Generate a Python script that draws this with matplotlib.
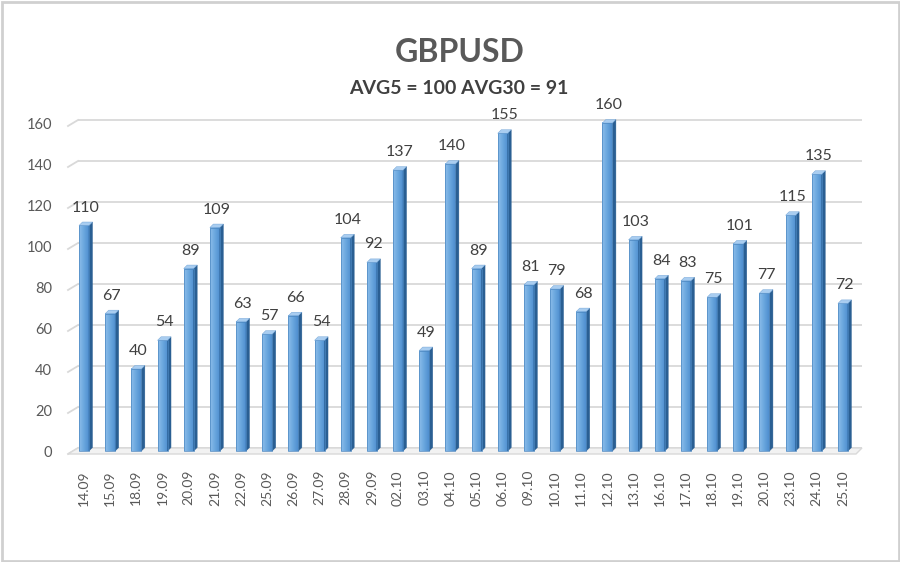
import matplotlib
matplotlib.use("Agg")
import matplotlib.pyplot as plt
from matplotlib.patches import Polygon, Rectangle
import numpy as np

plt.rcParams['font.family'] = ['Lato', 'DejaVu Sans']

title = "GBPUSD"
subtitle = "AVG5 = 100 AVG30 = 91"
dates = ["14.09", "15.09", "18.09", "19.09", "20.09", "21.09", "22.09", "25.09", "26.09", "27.09",
         "28.09", "29.09", "02.10", "03.10", "04.10", "05.10", "06.10", "09.10", "10.10", "11.10",
         "12.10", "13.10", "16.10", "17.10", "18.10", "19.10", "20.10", "23.10", "24.10", "25.10"]
values = [110, 67, 40, 54, 89, 109, 63, 57, 66, 54,
          104, 92, 137, 49, 140, 89, 155, 81, 79, 68,
          160, 103, 84, 83, 75, 101, 77, 115, 135, 72]
yticks = [0, 20, 40, 60, 80, 100, 120, 140, 160]

W, H = 900, 562
fig = plt.figure(figsize=(W / 100, H / 100), dpi=100)
fig.patch.set_facecolor("white")

# frame border
fig.add_artist(Rectangle((1.5 / W, 1.5 / H), (W - 3) / W, (H - 3) / H, transform=fig.transFigure,
                         fill=False, edgecolor="#d0d0d0", linewidth=2))

left_px, right_px = 78, 862
y0_px, y160_px = 451, 123
ax = fig.add_axes([left_px / W, 1 - y0_px / H, (right_px - left_px) / W, (y0_px - y160_px) / H])
step = 26.17
c0 = 84
ax.axis("off")

px_x = 1 / step
px_y = 160 / (y0_px - y160_px)

xl = (left_px - c0) / step
xr = (right_px - c0) / step
xs = (68 - c0) / step

for v in yticks:
    yb = v + 3 * px_y
    ax.plot([xl, xr], [yb, yb], color="#d9d9d9", lw=1.3, clip_on=False, zorder=1, solid_capstyle="butt")
    ax.plot([xs, xl], [v - 3 * px_y, yb], color="#d9d9d9", lw=1.3, clip_on=False, zorder=1)
    ax.text((52 - c0) / step, v - 2 * px_y, str(v), ha="right", va="center", fontsize=10.5,
            color="#595959")

floor = Polygon([(xs, -3 * px_y), (xl, 3 * px_y), (xr, 3 * px_y), (xr - 6 * px_x, -3 * px_y)],
                closed=True, facecolor="#f2f2f2", edgecolor="#d9d9d9", lw=1, zorder=1, clip_on=False)
ax.add_patch(floor)

bw = 10 * px_x
dx = 3.5 * px_x
dy = 3.5 * px_y
grad = np.linspace(0, 1, 32)[None, :]
cmap = matplotlib.colors.LinearSegmentedColormap.from_list("b", ["#8cbdea", "#6aa7de", "#4f8fcf"])
for i, v in enumerate(values):
    x0 = i - bw / 2
    x1 = i + bw / 2
    im = ax.imshow(grad, extent=(x0, x1, 0, v), aspect="auto", cmap=cmap, zorder=3,
                   interpolation="bilinear")
    im.set_clip_on(False)
    ax.add_patch(Rectangle((x0, 0), bw, v, fill=False, edgecolor="#4a86c0", lw=0.5, zorder=4,
                           clip_on=False))
    side = Polygon([(x1, 0), (x1 + dx, dy), (x1 + dx, v + dy), (x1, v)], closed=True,
                   facecolor="#2a5f93", edgecolor="#2a5f93", lw=0.3, zorder=3, clip_on=False)
    top = Polygon([(x0, v), (x0 + dx, v + dy), (x1 + dx, v + dy), (x1, v)], closed=True,
                  facecolor="#a9cdf0", edgecolor="#6a9fd4", lw=0.3, zorder=4, clip_on=False)
    ax.add_patch(side)
    ax.add_patch(top)
    ax.text(i + dx / 2, v + 18 * px_y, str(v), ha="center", va="center", fontsize=11.5,
            color="#404040", zorder=5)
    ax.text(i, -19 * px_y, dates[i], ha="center", va="top", rotation=90, fontsize=10, color="#595959")

ax.set_xlim(xl, xr)
ax.set_ylim(0, 160)

fig.text(460 / W, 1 - 52 / H, title, ha="center", va="center", fontsize=23, fontweight="bold",
         color="#595959")
fig.text(459 / W, 1 - 89 / H, subtitle, ha="center", va="center", fontsize=14, fontweight="bold",
         color="#404040")

fig.savefig("out.png", dpi=100, facecolor="white")
